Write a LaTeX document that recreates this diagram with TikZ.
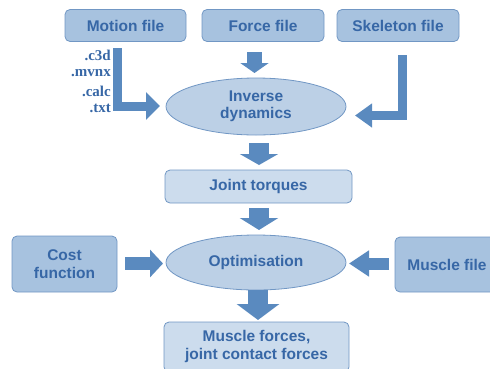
\documentclass[tikz,border=0pt]{standalone}
\usepackage{fontspec}
\setmainfont{Liberation Sans}
\newfontfamily\extfont{Liberation Serif}
\usetikzlibrary{arrows.meta,shapes.geometric}
\definecolor{filefill}{HTML}{A7C2DF}
\definecolor{lightfill}{HTML}{CCDCED}
\definecolor{ellfill}{HTML}{BCD0E6}
\definecolor{edgeblue}{HTML}{7197C4}
\definecolor{arrowblue}{HTML}{5A8ABF}
\definecolor{textblue}{HTML}{3767A6}
\tikzset{
  lbl/.style={font=\fontsize{15.5}{17.5}\selectfont\bfseries, text=textblue, align=center, inner sep=0pt},
  filebox/.style={lbl, draw=edgeblue, line width=0.8pt, fill=filefill, rounded corners=5pt},
  lightbox/.style={lbl, draw=edgeblue, line width=0.8pt, fill=lightfill, rounded corners=5pt},
  ellbox/.style={lbl, ellipse, draw=edgeblue, line width=0.8pt, fill=ellfill},
  ext/.style={font=\extfont\fontsize{15}{17}\selectfont\bfseries, text=textblue, anchor=east, inner sep=0pt},
  blk/.style={draw=arrowblue, line join=miter},
}
\begin{document}
\begin{tikzpicture}[x=1pt,y=-1pt]
\useasboundingbox (0,0) rectangle (490,368);
% nodes
\node[filebox, minimum width=121pt, minimum height=32pt] (motion) at (125.5,25.5) {Motion file};
\node[filebox, minimum width=122pt, minimum height=32pt] (force) at (263,25.5) {Force file};
\node[filebox, minimum width=122pt, minimum height=32pt] (skel) at (398,25.5) {Skeleton file};
\node[ellbox, minimum width=180pt, minimum height=57pt] (invdyn) at (256,106.5) {Inverse\\dynamics};
\node[lightbox, minimum width=187pt, minimum height=33pt] (joint) at (258.5,186.5) {Joint torques};
\node[ellbox, minimum width=180pt, minimum height=55pt] (optim) at (256,262.5) {Optimisation};
\node[lightbox, minimum width=185pt, minimum height=50pt] (forces) at (256.5,347) {};
\node[lbl] (forcestxt) at (256.5,346.5) {Muscle forces,\\joint contact forces};
\node[filebox, minimum width=105pt, minimum height=56pt] (cost) at (64.5,264) {Cost\\function};
\node[filebox, minimum width=105pt, minimum height=55pt] (muscle) at (447.5,264.5) {};
\node[lbl] (muscletxt) at (447,264.5) {Muscle file};
% extensions
\node[ext] (e1) at (111,55) {.c3d};
\node[ext] (e2) at (111,73) {.mvnx};
\node[ext] (e3) at (111,91) {.calc};
\node[ext] (e4) at (111,108) {.txt};
% bent arrows
\coordinate (m1) at (117.5,48);
\coordinate (m2) at (160,106);
\draw[blk, line width=9pt, -{Triangle[width=27pt,length=14pt]}] (m1) |- (m2);
\coordinate (s1) at (402,55);
\coordinate (s2) at (355,115.5);
\draw[blk, line width=9pt, -{Triangle[width=23pt,length=17pt]}] (s1) |- (s2);
% straight block arrows
\coordinate (f1) at (254.5,52);
\coordinate (f2) at (254.5,73);
\draw[blk, line width=15pt, -{Triangle[width=28pt,length=10pt]}] (f1) -- (f2);
\coordinate (i1) at (259,143);
\coordinate (i2) at (259,165);
\draw[blk, line width=20pt, -{Triangle[width=38pt,length=11pt]}] (i1) -- (i2);
\coordinate (j1) at (259,208);
\coordinate (j2) at (259,230);
\draw[blk, line width=20pt, -{Triangle[width=38pt,length=12pt]}] (j1) -- (j2);
\coordinate (o1) at (258,290);
\coordinate (o2) at (258,320);
\draw[blk, line width=20pt, -{Triangle[width=42pt,length=16pt]}] (o1) -- (o2);
\coordinate (c1) at (125,263.5);
\coordinate (c2) at (163,263.5);
\draw[blk, line width=13pt, -{Triangle[width=27pt,length=13pt]}] (c1) -- (c2);
\coordinate (mu1) at (389,263.5);
\coordinate (mu2) at (349,263.5);
\draw[blk, line width=12pt, -{Triangle[width=25pt,length=20pt]}] (mu1) -- (mu2);
\end{tikzpicture}
\end{document}
